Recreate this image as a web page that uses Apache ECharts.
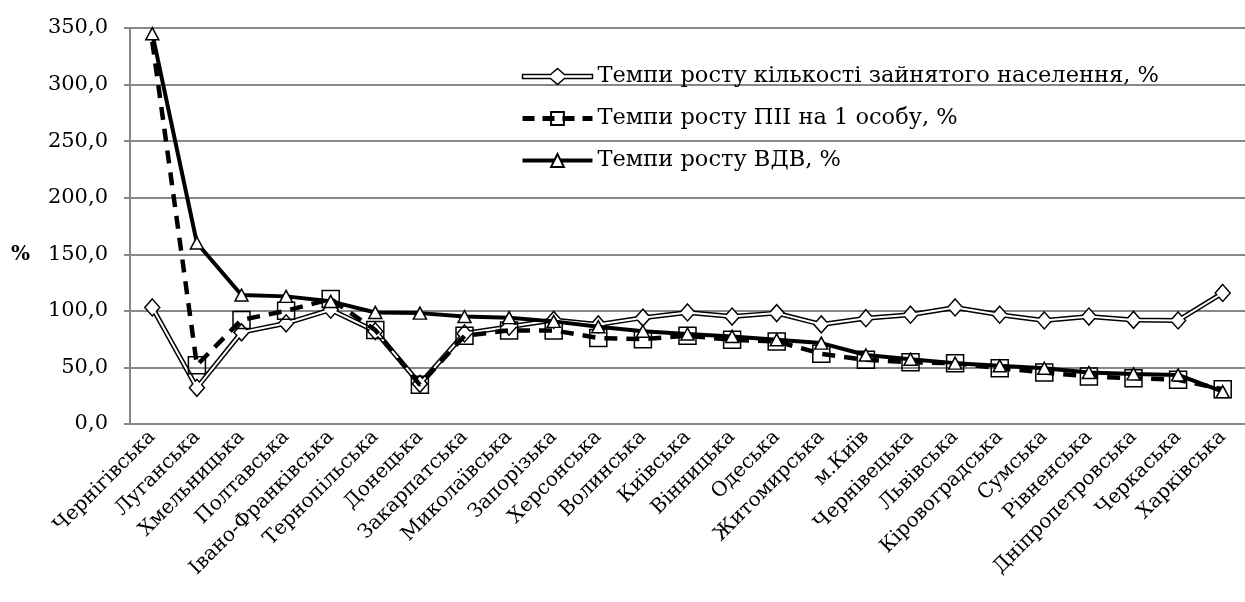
<!DOCTYPE html>
<html>
<head>
<meta charset="utf-8">
<script src="https://cdn.jsdelivr.net/npm/echarts@6/dist/echarts.min.js"></script>
<style>
  html, body { margin: 0; padding: 0; background: #fff; }
  #chart { width: 1245px; height: 602px; }
</style>
</head>
<body>
<div id="chart"></div>
<script>
var regions = ['Чернігівська', 'Луганська', 'Хмельницька', 'Полтавська', 'Івано-Франківська',
  'Тернопільська', 'Донецька', 'Закарпатська', 'Миколаївська', 'Запорізька', 'Херсонська',
  'Волинська', 'Київська', 'Вінницька', 'Одеська', 'Житомирська', 'м.Київ', 'Чернівецька',
  'Львівська', 'Кіровоградська', 'Сумська', 'Рівненська', 'Дніпропетровська', 'Черкаська', 'Харківська'];

// темпи росту кількості зайнятого населення, %
var employed = [103, 32, 81, 89, 101, 82, 35.5, 80, 86, 92, 88, 94, 98.6, 95, 98, 88, 93.5,
  96.6, 103, 96.6, 91.5, 95, 92, 91.5, 115.8];
// темпи росту ПІІ на 1 особу, %
var fdi = [338, 52, 92, 100, 110.5, 83, 34.6, 78, 82.7, 82.7, 76, 75, 78, 74.4, 73, 62, 56.7,
  54.6, 53.8, 49.3, 45.5, 42, 40.5, 39, 30.7];
// темпи росту ВДВ, %
var gva = [345, 160, 114, 112.8, 108.4, 98.6, 98, 95, 94, 90.7, 86, 82, 79.5, 77.4, 74.4, 71.5, 61,
  57.3, 53.8, 51.4, 49.3, 45.5, 44.3, 43.4, 28.6];

var names = ['Темпи росту кількості зайнятого населення, %', 'Темпи росту ПІІ на 1 особу, %', 'Темпи росту ВДВ, %'];
var font = 'DejaVu Serif';

// у першій точці маркер квадрата не видно
var fdiData = fdi.map(function (v, i) { return i === 0 ? { value: v, symbol: 'none' } : v; });

// подвійна лінія з ромбом для легенди
var doubleLineIcon = 'path://M0,6 L28,6 L35,0 L42,6 L70,6 L70,10 L42,10 L35,16 L28,10 L0,10 Z';

var myChart = echarts.init(document.getElementById('chart'));
var option = {
  animation: false,
  textStyle: { fontFamily: font, color: '#000' },
  title: {
    text: '%',
    left: 6,
    top: 240,
    textStyle: { fontFamily: font, fontSize: 20, fontWeight: 'bold', color: '#000' }
  },
  grid: { left: 130, right: -9, top: 28, bottom: 178 },
  legend: {
    orient: 'vertical',
    left: 515,
    top: 60,
    itemWidth: 70,
    itemHeight: 16,
    itemGap: 19,
    textStyle: { fontFamily: font, fontSize: 22.5, color: '#000' },
    data: [
      { name: names[0], icon: doubleLineIcon, itemStyle: { color: '#fff', borderColor: '#000', borderWidth: 1.5 } },
      { name: names[1], lineStyle: { color: '#000', width: 5, type: [12, 8] } },
      { name: names[2], lineStyle: { color: '#000', width: 4 } }
    ]
  },
  xAxis: {
    type: 'category',
    data: regions,
    axisLine: { lineStyle: { color: '#888', width: 2 } },
    axisTick: { length: 6, lineStyle: { color: '#888', width: 2 } },
    axisLabel: { rotate: 45, fontSize: 20, color: '#000', fontFamily: font, margin: 10, interval: 0 }
  },
  yAxis: {
    type: 'value',
    min: 0,
    max: 350,
    interval: 50,
    axisLine: { show: true, lineStyle: { color: '#888', width: 2 } },
    axisTick: { show: true, length: 6, lineStyle: { color: '#888', width: 2 } },
    splitLine: { lineStyle: { color: '#888', width: 2 } },
    axisLabel: {
      fontSize: 21, color: '#000', fontFamily: font, margin: 22,
      formatter: function (v) { return v.toFixed(1).replace('.', ','); }
    }
  },
  series: [
    {
      name: names[0],
      type: 'line',
      data: employed,
      symbol: 'diamond',
      symbolSize: [15, 17],
      lineStyle: { color: '#000', width: 5 },
      itemStyle: { color: '#fff', borderColor: '#000', borderWidth: 1.5 },
      z: 2
    },
    {
      name: 'inner',
      type: 'line',
      data: employed,
      symbol: 'none',
      lineStyle: { color: '#fff', width: 2 },
      z: 3,
      silent: true
    },
    {
      name: names[1],
      type: 'line',
      data: fdiData,
      symbol: 'rect',
      symbolSize: 17,
      lineStyle: { color: '#000', width: 4.5, type: [13, 9] },
      itemStyle: { color: 'rgba(255,255,255,0)', borderColor: '#000', borderWidth: 1.5 },
      z: 4
    },
    {
      name: names[2],
      type: 'line',
      data: gva,
      symbol: 'triangle',
      symbolSize: [13, 12],
      lineStyle: { color: '#000', width: 4 },
      itemStyle: { color: '#fff', borderColor: '#000', borderWidth: 1.5 },
      z: 5
    }
  ]
};
myChart.setOption(option);
</script>
</body>
</html>
